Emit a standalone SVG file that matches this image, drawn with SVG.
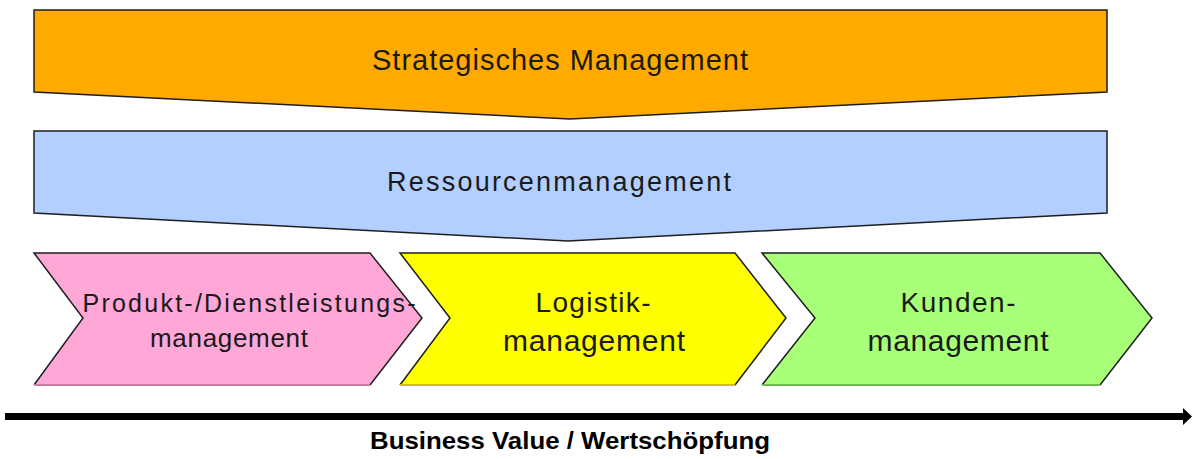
<svg xmlns="http://www.w3.org/2000/svg" width="1192" height="459" viewBox="0 0 1192 459">
<style>
.lbl{font-family:"Liberation Sans","DejaVu Sans",sans-serif;fill:#1a1a1a;text-anchor:middle}
.edge{fill:none;stroke:#1e1e1e;stroke-width:1.5;stroke-linejoin:miter}
</style>
<rect width="1192" height="459" fill="#ffffff"/>
<g id="strategisches-management">
<polygon points="34,10 1107,10 1107,92 570,119 34,92" class="edge" style="fill:#FFAA00"/>
<text class="lbl" style="font-size:29px" x="560" y="70" textLength="376" lengthAdjust="spacing">Strategisches Management</text>
</g>
<g id="ressourcenmanagement">
<polygon points="34,131 1107,131 1107,213 568,241 34,213" class="edge" style="fill:#B2CFFF"/>
<text class="lbl" style="font-size:27px" x="559" y="191" textLength="344" lengthAdjust="spacing">Ressourcenmanagement</text>
</g>
<g id="produkt-dienstleistungsmanagement">
<polygon points="34,253 370,253 422,318 370,385 34,385 83,318" fill="#FFA8D8"/>
<polyline points="34,385 83,318 34,253 370,253 422,318 370,385" class="edge"/>
<line x1="34" y1="385" x2="370" y2="385" stroke="#C77FA6" stroke-width="2"/>
<text class="lbl" style="font-size:25px" x="249" y="312" textLength="333" lengthAdjust="spacing">Produkt-/Dienstleistungs-</text>
<text class="lbl" style="font-size:26px" x="229" y="347" textLength="158" lengthAdjust="spacing">management</text>
</g>
<g id="logistikmanagement">
<polygon points="400,253 735,253 786,318 735,385 400,385 450,318" fill="#FFFF00"/>
<polyline points="400,385 450,318 400,253 735,253 786,318 735,385" class="edge"/>
<line x1="400" y1="385" x2="735" y2="385" stroke="#CFC000" stroke-width="2"/>
<text class="lbl" style="font-size:28px" x="593" y="312" textLength="115" lengthAdjust="spacing">Logistik-</text>
<text class="lbl" style="font-size:30px" x="594" y="351" textLength="182" lengthAdjust="spacing">management</text>
</g>
<g id="kundenmanagement">
<polygon points="762,253 1100,253 1152,318 1100,385 762,385 815,318" fill="#A8FF78"/>
<polyline points="762,385 815,318 762,253 1100,253 1152,318 1100,385" class="edge"/>
<line x1="762" y1="385" x2="1100" y2="385" stroke="#6FB84E" stroke-width="2"/>
<text class="lbl" style="font-size:28px" x="958" y="312" textLength="115" lengthAdjust="spacing">Kunden-</text>
<text class="lbl" style="font-size:30px" x="958" y="351" textLength="181" lengthAdjust="spacing">management</text>
</g>
<g id="connectors">
<line x1="5" y1="416.5" x2="1185" y2="416.5" stroke="#000" stroke-width="7"/>
<polygon points="1183,408 1192,416.5 1183,425" fill="#000"/>
</g>
<g id="axis-label">
<text class="lbl" style="font-size:24px;font-weight:bold;fill:#000" x="570" y="449" textLength="400" lengthAdjust="spacingAndGlyphs">Business Value / Wertschöpfung</text>
</g>
</svg>
